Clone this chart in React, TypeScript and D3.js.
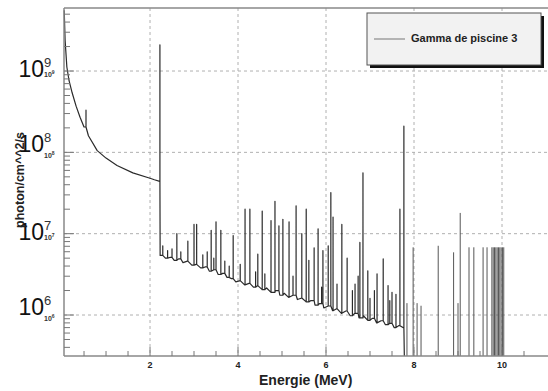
import React from 'react';
import * as d3 from 'd3';

// ---------- data ----------
const lowEnergy = [0.05, 0.07, 0.11, 0.16, 0.23, 0.32, 0.41, 0.5, 0.6, 0.8, 1.0, 1.25, 1.61, 2.0, 2.1, 2.22];
const lowFlux = [5.6e9, 2.4e9, 1.12e9, 7.6e8, 5.4e8, 3.7e8, 2.7e8, 2.05e8, 1.6e8, 1.05e8, 8.5e7, 6.9e7, 5.6e7, 4.8e7, 4.6e7, 4.4e7];

const contEnergy = [2.23, 2.35, 2.45, 2.55, 2.65, 2.75, 2.85, 2.95, 3.05, 3.15, 3.25, 3.35, 3.45, 3.55, 3.65, 3.75, 3.85, 3.95, 4.05, 4.15, 4.25, 4.35, 4.45, 4.55, 4.65, 4.75, 4.85, 4.95, 5.05, 5.15, 5.25, 5.35, 5.45, 5.55, 5.65, 5.75, 5.85, 5.95, 6.05, 6.15, 6.25, 6.35, 6.45, 6.55, 6.65, 6.75, 6.85, 6.95, 7.05, 7.15, 7.25, 7.35, 7.45, 7.55, 7.65, 7.75];
const contFlux = [5.4e6, 5.0e6, 5.1e6, 4.7e6, 4.9e6, 4.4e6, 4.6e6, 4.1e6, 4.2e6, 3.8e6, 3.9e6, 3.45e6, 3.6e6, 3.15e6, 3.25e6, 2.9e6, 2.8e6, 2.55e6, 2.65e6, 2.35e6, 2.45e6, 2.2e6, 2.3e6, 2.05e6, 2.15e6, 1.9e6, 2.0e6, 1.75e6, 1.85e6, 1.65e6, 1.75e6, 1.55e6, 1.62e6, 1.45e6, 1.5e6, 1.32e6, 1.38e6, 1.22e6, 1.29e6, 1.13e6, 1.2e6, 1.05e6, 1.12e6, 9.8e5, 1.05e6, 9.2e5, 9.8e5, 8.6e5, 9.1e5, 8.0e5, 8.5e5, 7.6e5, 7.9e5, 7.0e5, 7.4e5, 7.0e5];

const peakEnergy = [0.545, 2.225, 2.29, 2.4, 2.5, 2.61, 2.7, 2.86, 3.0, 3.06, 3.2, 3.3, 3.39, 3.45, 3.5, 3.61, 3.7, 3.8, 3.89, 4.05, 4.16, 4.27, 4.4, 4.45, 4.55, 4.61, 4.75, 4.84, 4.93, 5.02, 5.16, 5.25, 5.32, 5.45, 5.55, 5.61, 5.73, 5.82, 5.9, 5.93, 6.05, 6.11, 6.16, 6.25, 6.36, 6.48, 6.6, 6.66, 6.73, 6.77, 6.84, 6.95, 7.0, 7.1, 7.16, 7.3, 7.41, 7.45, 7.5, 7.59, 7.68, 7.77];
const peakFlux = [3.3e8, 2.1e9, 7.1e6, 6.2e6, 6.5e6, 1.0e7, 6.0e6, 8.1e6, 1.3e7, 1.3e7, 5.5e6, 6.0e6, 1.1e7, 5.0e6, 1.4e7, 1.1e7, 4.6e6, 4.0e6, 9.5e6, 4.2e6, 2.0e7, 2.0e7, 3.4e6, 5.6e6, 1.9e7, 3.2e6, 1.45e7, 2.5e7, 1.25e7, 1.5e7, 1.4e7, 3.0e6, 2.2e7, 1.0e7, 2.0e7, 4.7e6, 6.7e6, 1.15e7, 2.2e6, 6.2e6, 7.1e6, 3.2e7, 1.6e7, 2.4e6, 1.3e7, 5.0e6, 2.0e6, 2.4e6, 3.0e6, 7.8e6, 5.6e7, 3.5e6, 1.6e6, 2.0e6, 3.2e6, 4.9e6, 2.3e6, 1.5e6, 1.9e6, 1.8e6, 2.0e7, 2.1e8];

const isoEnergy = [7.84, 7.98, 8.07, 8.16, 8.55, 8.9, 9.0, 9.05, 9.25, 9.36, 9.57, 9.66, 9.77, 9.8, 9.83, 9.86, 9.89, 9.92, 9.95, 9.98, 10.01, 10.04];
const isoFlux = [1.4e6, 6.8e6, 1.4e6, 1.3e6, 7.1e6, 5.9e6, 1.4e6, 1.8e7, 6.8e6, 6.8e6, 6.8e6, 6.8e6, 6.8e6, 6.8e6, 6.8e6, 6.8e6, 6.8e6, 6.8e6, 6.8e6, 6.8e6, 6.8e6, 6.8e6];

const xMajorTicks = [2, 4, 6, 8, 10];
const yDecades = [6, 7, 8, 9];
const legendLabel = 'Gamma de piscine 3';
const xTitle = 'Energie (MeV)';
const yTitle = 'photon/cm^^2/s';

// ---------- layout ----------
const W = 548, H = 391;
const L = 64, R = 548, T = 8, B = 356;
const bigDy: Record<number, number> = { 9: 6, 8: 0, 7: 6, 6: 0 };
const FONT = '"Liberation Sans", Arial, sans-serif';

export default function App() {
  const x = d3.scaleLinear().domain([0.045, 11.0]).range([L, 546]);
  const y = d3.scaleLog().domain([Math.pow(10, 5.496), Math.pow(10, 9.775)]).range([B, T]).clamp(true);
  const yv = (f: number) => (f > 0 ? y(f) : B);

  // merge continuum + peaks into a single histogram-like trace
  const cE = lowEnergy.concat(contEnergy);
  const cF = lowFlux.concat(contFlux);
  const pts: [number, number][] = [];
  for (let i = 0; i < cE.length; i++) {
    pts.push([cE[i], cF[i]]);
    const next = i + 1 < cE.length ? cE[i + 1] : Infinity;
    peakEnergy.forEach((pe, k) => {
      if (pe >= cE[i] && pe < next) {
        pts.push([pe, cF[i]], [pe, peakFlux[k]], [pe, cF[i]]);
      }
    });
  }
  pts.push([cE[cE.length - 1] + 0.03, 0]);

  const line = d3
    .line<[number, number]>()
    .x((d) => x(d[0]))
    .y((d) => yv(d[1]));

  const yTicks: { v: number; major: boolean }[] = [];
  for (let d = 5; d <= 9; d++) {
    for (let m = 1; m <= 9; m++) {
      const v = m * Math.pow(10, d);
      const [lo, hi] = y.domain();
      if (v >= lo && v <= hi) yTicks.push({ v, major: m === 1 });
    }
  }
  const xTicks: { v: number; major: boolean }[] = [];
  for (let v = 0.5; v <= 10.51; v += 0.5) xTicks.push({ v, major: xMajorTicks.includes(Math.round(v * 10) / 10) });

  return (
    <svg width={W} height={H} style={{ position: 'absolute', left: 0, top: 0, background: '#fff' }} fontFamily={FONT}>
      <rect x={0} y={0} width={W} height={H} fill="#fff" />
      {/* grid */}
      <g stroke="#b0b0b0" strokeWidth={1} strokeDasharray="3,3">
        {yDecades.map((d) => (
          <line key={'gy' + d} x1={L} x2={R} y1={y(Math.pow(10, d))} y2={y(Math.pow(10, d))} />
        ))}
        {xMajorTicks.map((v) => (
          <line key={'gx' + v} x1={x(v)} x2={x(v)} y1={T} y2={B} />
        ))}
      </g>
      {/* spectrum */}
      <path d={line(pts) || ''} fill="none" stroke="#2a2a2a" strokeWidth={1.2} strokeLinejoin="round" />
      <g stroke="#555" strokeWidth={1}>
        {isoEnergy.map((e, i) => (
          <line key={'iso' + i} x1={x(e)} x2={x(e)} y1={B} y2={yv(isoFlux[i])} />
        ))}
      </g>
      {/* frame */}
      <g stroke="#888" strokeWidth={1.5} fill="none">
        <line x1={L} x2={R} y1={T} y2={T} />
        <line x1={L} x2={L} y1={T} y2={B} />
        <line x1={L} x2={R} y1={B} y2={B} />
      </g>
      {/* ticks */}
      <g stroke="#777" strokeWidth={1}>
        {yTicks.map((t, i) => (
          <line key={'yt' + i} x1={L} x2={L + (t.major ? 10 : 6)} y1={y(t.v)} y2={y(t.v)} />
        ))}
        {xTicks.map((t, i) => (
          <line key={'xt' + i} x1={x(t.v)} x2={x(t.v)} y1={B} y2={B - (t.major ? 9 : 5)} />
        ))}
      </g>
      {/* x tick labels */}
      {xMajorTicks.map((v) => (
        <text key={'xl' + v} x={x(v)} y={368} fontSize={9} fontWeight="bold" textAnchor="middle" fill="#222">
          {v}
        </text>
      ))}
      {/* y labels: small + big overlay */}
      {yDecades.map((d) => {
        const gy = y(Math.pow(10, d));
        return (
          <g key={'yl' + d}>
            <text x={44} y={gy + 6} fontSize={7} fontWeight="bold" fill="#333">
              10
              <tspan dy={-3} fontSize={5}>{d}</tspan>
            </text>
            <text x={44} y={gy + bigDy[d]} fontSize={23} textAnchor="end" fill="#111">
              10
            </text>
            <text x={44} y={gy + bigDy[d] - 10} fontSize={13} fill="#333">
              {d}
            </text>
          </g>
        );
      })}
      {/* axis titles */}
      <text x={259} y={385} fontSize={14} fontWeight="bold" fill="#222">
        {xTitle}
      </text>
      <text transform={`translate(24,180) rotate(-90)`} fontSize={12.5} fontWeight="bold" textAnchor="middle" fill="#222">
        {yTitle}
      </text>
      {/* legend */}
      <rect x={370} y={16} width={174} height={52} fill="#111" />
      <rect x={367} y={13} width={174} height={52} fill="#f2f2f2" stroke="#555" strokeWidth={1} />
      <line x1={374} x2={405} y1={39} y2={39} stroke="#777" strokeWidth={1} />
      <text x={411} y={42} fontSize={11} fontWeight="bold" fill="#222">
        {legendLabel}
      </text>
    </svg>
  );
}
